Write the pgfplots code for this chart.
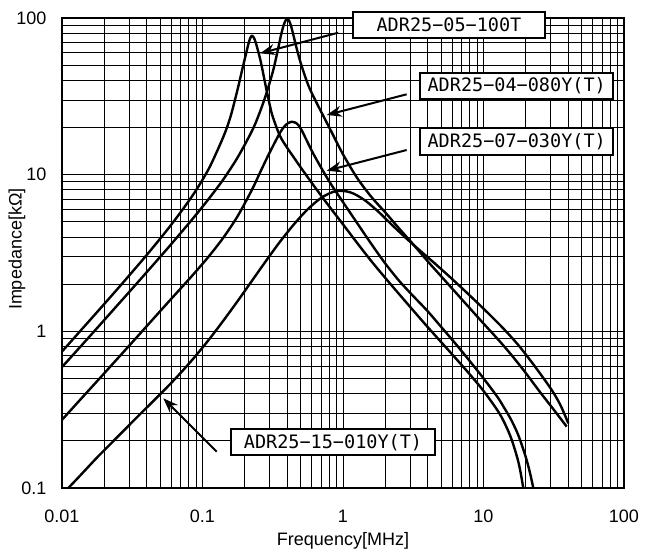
\documentclass[border=0pt]{standalone}
\usepackage{fontspec}
\setmainfont{Liberation Sans}
\newfontfamily\labelfont{DejaVu Sans Mono}
\usepackage{pgfplots}
\pgfplotsset{compat=1.18}
\usetikzlibrary{arrows.meta}

\tikzset{
  partbox/.style={draw=black, line width=2pt, fill=white, inner sep=0pt,
    font=\labelfont\fontsize{18.5}{20}\selectfont},
  partarrow/.style={line width=2pt, -{Stealth[length=15pt,width=11pt]}},
  curve/.style={black, line width=2.4pt, smooth, line join=round}
}

\begin{document}
\begin{tikzpicture}[x=1pt,y=1pt]
\path[use as bounding box] (0,0) rectangle (650,553);
\begin{axis}[
  at={(62pt,65pt)}, anchor=south west,
  width=562pt, height=470pt, scale only axis,
  xmode=log, ymode=log,
  xmin=0.01, xmax=100, ymin=0.1, ymax=100,
  xtick={0.01,0.1,1,10,100},
  xticklabels={0.01,0.1,1,10,100},
  ytick={0.1,1,10,100},
  yticklabels={0.1,1,10,100},
  minor xtick={0.02,0.03,0.04,0.05,0.06,0.07,0.08,0.09,
               0.2,0.3,0.4,0.5,0.6,0.7,0.8,0.9,
               2,3,4,5,6,7,8,9,20,30,40,50,60,70,80,90},
  minor ytick={0.2,0.3,0.4,0.5,0.6,0.7,0.8,0.9,
               2,3,4,5,6,7,8,9,20,30,40,50,60,70,80,90},
  grid=both,
  major grid style={black, line width=0.8pt},
  minor grid style={black, line width=0.8pt},
  major tick length=0pt, minor tick length=0pt,
  axis line style={black, line width=1.2pt},
  tick label style={font=\fontsize{18}{20}\selectfont, inner sep=0pt},
  xticklabel style={anchor=center, yshift=-28.7pt},
  yticklabel style={anchor=east, xshift=-15.3pt},
  xlabel={Frequency[MHz]},
  ylabel={Impedance[kΩ]},
  label style={font=\fontsize{18}{20}\selectfont},
  xlabel style={at={(axis description cs:0.5,-0.1128)}, anchor=center},
  ylabel style={at={(axis description cs:-0.0801,0.508)}, anchor=center},
  clip mode=individual,
]

% ADR25-05-100T
\addplot[curve] coordinates {
  (0.01,0.7430) (0.013335,0.9931) (0.017783,1.3274) (0.023714,1.7783)
  (0.031623,2.3933) (0.04217,3.2434) (0.056234,4.4566) (0.070795,5.8479)
  (0.089125,7.8524) (0.1122,11.143) (0.14125,17.579) (0.15849,23.550)
  (0.17783,35.075) (0.19055,45.709) (0.19953,54.325) (0.20893,64.565)
  (0.21627,72.444) (0.22387,77.090) (0.23174,74.989) (0.23988,69.183)
  (0.25704,54.954) (0.26915,45.186) (0.28184,36.728) (0.30200,27.542)
  (0.31623,23.442) (0.35481,17.783) (0.39811,14.962) (0.44668,12.882)
  (0.50119,11.092) (0.63096,8.3176) (0.79433,6.3096) (1,4.8195)
  (1.2589,3.6728) (1.5849,2.8184) (1.9953,2.1979) (2.5119,1.7258)
  (3.1623,1.3583) (3.9811,1.0715) (5.0119,0.8511) (6.3096,0.6761)
  (7.9433,0.5346) (10,0.4169) (12.589,0.3126) (14.125,0.2600)
  (15.849,0.2042) (17.783,0.1445) (19.187,0.1) (19.724,0.0794)
};

% ADR25-04-080Y(T)
\addplot[curve] coordinates {
  (0.01,0.5916) (0.013335,0.7870) (0.017783,1.0495) (0.023714,1.4028)
  (0.031623,1.8750) (0.04217,2.5119) (0.056234,3.3729) (0.070795,4.2954)
  (0.089125,5.4954) (0.1122,7.1121) (0.14125,9.3756) (0.17783,12.882)
  (0.22387,18.836) (0.25119,23.988) (0.28184,31.989) (0.31623,45.186)
  (0.33884,58.884) (0.36308,78.524) (0.38019,91.201) (0.39355,97.724)
  (0.40179,98.628) (0.41210,96.605) (0.42658,89.125) (0.44668,75.858)
  (0.46774,64.121) (0.50119,51.286) (0.56234,37.844) (0.63096,30.200)
  (0.79433,20.184) (1,13.490) (1.2589,9.5499) (1.5849,7.2444)
  (1.9953,5.7544) (2.5119,4.5290) (3.1623,3.5892) (3.9811,2.8184)
  (5.0119,2.2387) (6.3096,1.7783) (7.9433,1.4125) (10,1.1220)
  (12.589,0.8954) (15.849,0.7047) (19.953,0.5433) (25.119,0.4121)
  (31.623,0.3162) (39.084,0.2466)
};

% ADR25-07-030Y(T)
\addplot[curve] coordinates {
  (0.01,0.2723) (0.013335,0.3622) (0.017783,0.4808) (0.023714,0.6397)
  (0.031623,0.8511) (0.04217,1.1350) (0.056234,1.5136) (0.070795,1.9011)
  (0.089125,2.3933) (0.1122,3.0479) (0.14125,3.9811) (0.17783,5.4325)
  (0.22387,7.9433) (0.25119,9.8855) (0.28184,12.303) (0.31623,15.136)
  (0.35481,18.408) (0.38019,20.184) (0.40738,21.380) (0.43092,21.777)
  (0.45709,21.528) (0.48084,20.749) (0.50699,19.275) (0.53703,17.378)
  (0.57544,15.311) (0.63096,13.032) (0.79433,9.1201) (1,6.6834)
  (1.2589,4.9204) (1.5849,3.6308) (1.9953,2.7164) (2.5119,2.0989)
  (3.1623,1.6788) (3.9811,1.3521) (5.0119,1.0641) (6.3096,0.8356)
  (7.9433,0.6501) (10,0.5012) (12.589,0.3802) (14.125,0.3221)
  (15.849,0.2692) (17.783,0.2148) (19.953,0.1585) (21.380,0.1259)
  (22.616,0.1) (23.174,0.0891)
};

% ADR25-15-010Y(T)
\addplot[curve] coordinates {
  (0.011092,0.1) (0.013335,0.1189) (0.017783,0.1567) (0.023714,0.2032)
  (0.031623,0.2636) (0.04217,0.3412) (0.056234,0.4416) (0.070795,0.5495)
  (0.089125,0.6950) (0.1122,0.8954) (0.14125,1.1749) (0.17783,1.5596)
  (0.22387,2.0893) (0.28184,2.7990) (0.35481,3.7154) (0.44668,4.8084)
  (0.56234,6.0256) (0.70795,7.1614) (0.89125,7.8524) (1.1220,7.7268)
  (1.4125,6.9183) (1.7783,5.8210) (2.2387,4.7643) (2.8184,3.9264)
  (3.5481,3.2659) (4.4668,2.7290) (5.6234,2.2699) (7.0795,1.8750)
  (8.9125,1.5417) (11.220,1.2618) (14.125,1.0233) (17.783,0.8128)
  (22.387,0.6237) (28.184,0.4699) (31.623,0.4027) (35.481,0.3350)
  (40.142,0.2588)
};

% labels
\draw[partarrow] (rel axis cs:0.4916,0.9687) -- (rel axis cs:0.3523,0.9248);
\draw[partarrow] (rel axis cs:0.6133,0.8376) -- (rel axis cs:0.4710,0.7936);
\draw[partarrow] (rel axis cs:0.6133,0.7191) -- (rel axis cs:0.4710,0.6751);
\draw[partarrow] (rel axis cs:0.2753,0.0772) -- (rel axis cs:0.1802,0.1909);

\node[partbox, minimum width=192pt, minimum height=26.6pt]
  at (rel axis cs:0.6886,0.9851) {ADR25−05−100T};
\node[partbox, minimum width=193.3pt, minimum height=26.6pt]
  at (rel axis cs:0.8091,0.8553) {ADR25−04−080Y(T)};
\node[partbox, minimum width=193.3pt, minimum height=26.6pt]
  at (rel axis cs:0.8091,0.7368) {ADR25−07−030Y(T)};
\node[partbox, minimum width=204pt, minimum height=25.7pt]
  at (rel axis cs:0.4822,0.0974) {ADR25−15−010Y(T)};

\end{axis}
\end{tikzpicture}
\end{document}
